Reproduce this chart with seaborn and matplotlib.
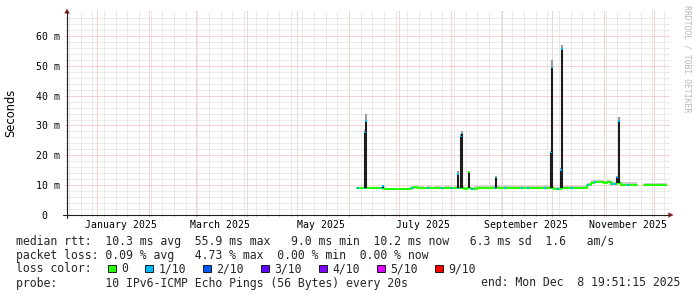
import numpy as np
import pandas as pd
import matplotlib
matplotlib.use("Agg")
import matplotlib.pyplot as plt
import matplotlib.dates as mdates
from matplotlib.patches import Polygon, Rectangle
from matplotlib.lines import Line2D
import seaborn as sns

# ---------------- data ----------------
range_start = "2024-12-13 19:51:15"
range_end = "2025-12-08 19:51:15"

median_start = "2025-06-06"
median_step_days = 2
median_ms = [9.0, 9.0, 9.0, 9.0, 9.0, 9.0, 9.0, 9.0, 8.8, 8.7,
             8.6, 8.7, 8.6, 8.7, 8.7, 8.8, 9.1, 9.3, 9.1, 9.1,
             9.0, 9.1, 9.0, 9.0, 9.1, 9.0, 9.0, 9.1, 9.0, 9.0,
             9.1, 9.0, 8.8, 8.9, 8.8, 8.8, 8.9, 9.0, 9.1, 9.0,
             9.1, 9.0, 9.1, 9.0, 9.1, 9.0, 9.1, 9.0, 9.0, 9.1,
             9.0, 9.0, 9.1, 9.0, 9.0, 9.0, 9.1, 9.0, 8.9, 8.6,
             8.7, 8.9, 9.0, 9.0, 9.0, 9.0, 9.0, 9.0, 9.1, 10.0,
             10.8, 11.0, 11.0, 10.9, 10.8, 10.9, 10.5, 10.4, 10.6, 10.1,
             10.0, 10.1, 10.2, 10.1, np.nan, np.nan, 10.2, 10.2, 10.2, 10.2,
             10.2, 10.2, 10.2]
median_loss = [1, 0, 1, 0, 0, 0, 0, 1, 0, 0,
               0, 0, 0, 0, 0, 0, 1, 0, 0, 0,
               0, 1, 0, 0, 0, 1, 0, 0, 1, 0,
               1, 0, 0, 0, 1, 0, 0, 0, 0, 0,
               0, 1, 0, 0, 1, 0, 0, 0, 0, 1,
               0, 1, 0, 0, 0, 0, 1, 0, 0, 0,
               1, 0, 0, 0, 1, 0, 0, 0, 0, 1,
               0, 1, 0, 0, 0, 0, 1, 1, 0, 0,
               0, 1, 0, 0, 0, 0, 0, 0, 0, 0,
               0, 0, 0]
smoke_top_ms = [9.4, 9.4, 9.5, 9.4, 9.4, 9.4, 9.5, 9.4, 9.2, 9.1,
                9.0, 9.1, 9.0, 9.1, 9.1, 9.2, 9.6, 9.8, 9.6, 9.6,
                9.5, 9.6, 9.5, 9.6, 9.6, 9.5, 9.6, 9.6, 9.5, 9.6,
                9.7, 9.6, 9.4, 9.5, 9.5, 9.6, 9.7, 9.8, 9.9, 9.8,
                9.9, 9.8, 9.9, 9.8, 9.9, 9.8, 9.9, 9.8, 9.8, 9.9,
                9.8, 9.8, 9.9, 9.8, 9.8, 9.8, 9.9, 9.7, 9.6, 9.3,
                9.4, 9.6, 9.7, 9.7, 9.7, 9.6, 9.7, 9.7, 9.8, 10.8,
                11.6, 11.7, 11.7, 11.6, 11.5, 11.6, 11.3, 11.2, 11.5, 11.2,
                11.0, 11.1, 11.2, 11.1, np.nan, np.nan, 10.6, 10.6, 10.6, 10.6,
                10.6, 10.6, 10.6]

spike_times = ["2025-06-10 12:00", "2025-06-11 12:00", "2025-06-21 12:00",
               "2025-08-05 12:00", "2025-08-07 06:00", "2025-08-08 00:00",
               "2025-08-12 00:00", "2025-08-28 00:00", "2025-09-30 00:00",
               "2025-10-01 00:00", "2025-10-06 00:00", "2025-10-07 00:00",
               "2025-11-09 00:00", "2025-11-10 00:00"]
spike_median_ms = [27.9, 31.8, 10.0, 14.0, 26.5, 27.6, 14.6, 12.8, 21.2, 49.7, 15.4, 55.9, 12.8, 31.8]
spike_top_ms = [28.4, 33.8, 10.2, 14.6, 27.0, 28.3, 14.8, 13.2, 21.5, 52.0, 15.8, 57.0, 13.2, 32.7]
spike_loss = [1, 1, 1, 1, 1, 1, 0, 1, 1, 1, 1, 1, 1, 1]

y_ticks = [0, 10, 20, 30, 40, 50, 60]
y_tick_labels = ["0  ", "10 m", "20 m", "30 m", "40 m", "50 m", "60 m"]
x_month_labels = ["January 2025", "March 2025", "May 2025", "July 2025",
                  "September 2025", "November 2025"]
x_month_label_times = ["2025-01-15 12:00", "2025-03-15 12:00", "2025-05-15 12:00",
                       "2025-07-15 12:00", "2025-09-15 12:00", "2025-11-15 12:00"]

loss_labels = ["0", "1/10", "2/10", "3/10", "4/10", "5/10", "9/10"]
loss_colors = ["#26ff00", "#00b8ff", "#0059ff", "#5e00ff", "#7e00ff", "#dd00ff", "#ff0000"]

legend_line1 = "median rtt:  10.3 ms avg  55.9 ms max   9.0 ms min  10.2 ms now   6.3 ms sd  1.6   am/s"
legend_line2 = "packet loss: 0.09 % avg   4.73 % max  0.00 % min  0.00 % now"
legend_line3 = "loss color:"
legend_line4 = "probe:       10 IPv6-ICMP Echo Pings (56 Bytes) every 20s"
legend_end = "end: Mon Dec  8 19:51:15 2025"
y_unit_label = "Seconds"
watermark = "RRDTOOL / TOBI OETIKER"

# ---------------- drawing ----------------
sns.set_theme(style="white")
plt.rcParams["font.family"] = ["DejaVu Sans"]
MONO = "DejaVu Sans Mono"

W, H = 697, 297
def fx(px):
    return px / W
def fy(py):
    return 1 - py / H

fig = plt.figure(figsize=(W / 100, H / 100), dpi=100, facecolor="white")
ax = fig.add_axes([fx(67), fy(215), 600 / W, 202 / H])
ax.set_facecolor("white")

t0 = mdates.date2num(pd.Timestamp(range_start))
t1 = mdates.date2num(pd.Timestamp(range_end))
step = float(median_step_days)

times = mdates.date2num(pd.date_range(median_start, periods=len(median_ms), freq=f"{median_step_days}D"))
med = np.array(median_ms, dtype=float)
smk = np.array(smoke_top_ms, dtype=float)
loss = np.array(median_loss)

# step-post segments split at gaps
rows = []
seg = 0
prev_nan = True
for i, (t, v, s) in enumerate(zip(times, med, smk)):
    if np.isnan(v):
        if not prev_nan:
            seg += 1
        prev_nan = True
        continue
    rows.append((t, v, s, seg))
    nxt_nan = (i + 1 >= len(med)) or np.isnan(med[i + 1])
    if nxt_nan:
        rows.append((t + step, v, s, seg))
    prev_nan = False
df = pd.DataFrame(rows, columns=["t", "ms", "smoke", "seg"])

GRID = "#d8d8d8"
MGRID = "#eeaaaa"

# smoke band
for sid, g in df.groupby("seg"):
    ax.fill_between(g["t"], g["ms"], g["smoke"], step="post", color="#cdcdcd", lw=0, zorder=2)

# median line (base colour), then loss colours
sns.lineplot(data=df, x="t", y="ms", units="seg", estimator=None,
             drawstyle="steps-post", color=loss_colors[0], lw=1.5, ax=ax, zorder=3)
mask = (loss > 0) & ~np.isnan(med)
ax.hlines(med[mask], times[mask], times[mask] + step * 0.6,
          colors=[loss_colors[k] for k in loss[mask]], lw=1.5, zorder=4)

# spikes
st = mdates.date2num(pd.to_datetime(spike_times))
base_series = pd.Series(med, index=times).ffill()
bases = [base_series[base_series.index <= t].iloc[-1] for t in st]
ax.vlines(st, spike_median_ms, spike_top_ms, colors="#9a9a9a", lw=1.5, zorder=5)
ax.vlines(st, bases, spike_median_ms, colors="#1c1c1c", lw=1.5, zorder=5)
ax.vlines(st, np.array(spike_median_ms) - 0.5, spike_median_ms,
          colors=[loss_colors[k] for k in spike_loss], lw=1.5, zorder=6)

ax.set_xlim(t0, t1)
ax.set_ylim(0, 67.7)
ax.set_xlabel("")
ax.set_ylabel("")

# grid / ticks
months = mdates.date2num(pd.date_range("2025-01-01", "2025-12-01", freq="MS"))
weeks = mdates.date2num(pd.date_range("2024-12-15", "2025-12-07", freq="7D"))
weeks = [w for w in weeks if min(abs(w - months)) > 0.5]
ax.set_xticks(months)
ax.set_xticklabels([])
ax.set_xticks(weeks, minor=True)
ax.set_yticks(y_ticks)
ax.set_yticklabels(y_tick_labels, fontfamily=MONO, fontsize=7.1)
ax.set_yticks([v for v in range(2, 68, 2) if v % 10], minor=True)

ax.set_axisbelow(True)
ax.grid(True, which="major", color=MGRID, ls=(0, (1, 1)), lw=0.72)
ax.grid(True, which="minor", color=GRID, ls=(0, (1, 1)), lw=0.72)
ax.tick_params(which="major", direction="out", length=1.6, width=0.6, color=MGRID,
               left=True, right=True, top=True, bottom=True,
               labelleft=True, labelright=False, labeltop=False, labelbottom=False)
ax.tick_params(which="minor", direction="out", length=1.6, width=0.6, color=GRID,
               left=True, right=True, top=True, bottom=True)
ax.tick_params(axis="y", which="major", pad=3.4, labelcolor="black")
for sp in ax.spines.values():
    sp.set_visible(False)

for lab, tt in zip(x_month_labels, x_month_label_times):
    ax.annotate(lab, xy=(mdates.date2num(pd.Timestamp(tt)), 0),
                xycoords=ax.get_xaxis_transform(), xytext=(0, -3.4),
                textcoords="offset points", ha="center", va="top",
                fontfamily=MONO, fontsize=7.1, color="black")

# axis lines and arrows
fig.add_artist(Line2D([fx(63), fx(668)], [fy(215), fy(215)], color="#1f1f1f", lw=0.8))
fig.add_artist(Line2D([fx(67), fx(67)], [fy(218), fy(12)], color="#1f1f1f", lw=0.8))
fig.add_artist(Polygon([(fx(64.3), fy(13.5)), (fx(69.7), fy(13.5)), (fx(67), fy(8.5))],
                       closed=True, color="#7f1f1f", lw=0, transform=fig.transFigure))
fig.add_artist(Polygon([(fx(668.3), fy(212.3)), (fx(668.3), fy(217.7)), (fx(673.5), fy(215))],
                       closed=True, color="#7f1f1f", lw=0, transform=fig.transFigure))

# unit label and watermark
fig.text(fx(10.3), fy(112.5), y_unit_label, rotation=90, ha="center", va="center",
         fontfamily="DejaVu Sans", fontsize=8.3, color="black")
fig.text(fx(687.2), fy(5), watermark, rotation=-90, ha="center", va="top",
         fontfamily=MONO, fontsize=5.9, color="#b8b8b8")

# legend text
LS = 8.3
fig.text(fx(15.5), fy(244.5), legend_line1, fontfamily=MONO, fontsize=LS, va="baseline")
fig.text(fx(15.5), fy(258.5), legend_line2, fontfamily=MONO, fontsize=LS, va="baseline")
fig.text(fx(15.5), fy(272.5), legend_line3, fontfamily=MONO, fontsize=LS, va="baseline")
fig.text(fx(15.5), fy(286.5), legend_line4, fontfamily=MONO, fontsize=LS, va="baseline")
fig.text(fx(680.5), fy(286.5), legend_end, fontfamily=MONO, fontsize=LS, va="baseline", ha="right")

bx = 108.3
for lab, col in zip(loss_labels, loss_colors):
    fig.add_artist(Rectangle((fx(bx), fy(272.3)), 7.3 / W, 7.3 / H, facecolor=col,
                             edgecolor="black", lw=0.6, transform=fig.transFigure))
    fig.text(fx(bx + 13.0), fy(272.5), lab, fontfamily=MONO, fontsize=LS, va="baseline")
    bx += 30.2 + 6.94 * len(lab)

fig.savefig("out.png", dpi=100, facecolor="white")
